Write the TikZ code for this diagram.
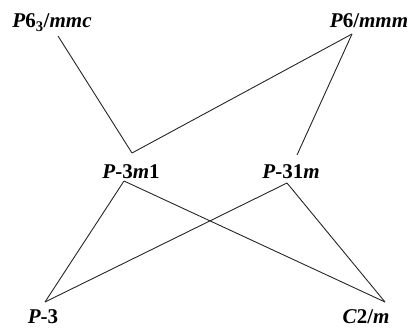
\documentclass[tikz,border=0pt]{standalone}
\usepackage{fontspec}
\setmainfont{Liberation Serif}
\begin{document}
\begin{tikzpicture}[x=1pt,y=-1pt,
  lbl/.style={font=\fontsize{21}{25}\selectfont\bfseries, anchor=base, inner sep=0pt},
  edge/.style={line width=0.9pt, draw=black!85}]
\useasboundingbox (0,0) rectangle (411,329);
% labels
\node[lbl] (p63) at (52,28) {\textit{P}6\textsubscript{3}/\textit{mmc}};
\node[lbl] (p6m) at (369,28) {\textit{P}6/\textit{mmm}};
\node[lbl] (p3m1) at (131,178) {\textit{P}-3\textit{m}1};
\node[lbl] (p31m) at (291,178) {\textit{P}-31\textit{m}};
\node[lbl] (p3) at (43,323) {\textit{P}-3};
\node[lbl] (c2m) at (366,323) {\textit{C}2/\textit{m}};
% connector end points
\coordinate (p63s) at (58,36);
\coordinate (p6ms) at (352,34);
\coordinate (p3m1n) at (132,153);
\coordinate (p3m1s) at (124,181);
\coordinate (p31mn) at (297,155);
\coordinate (p31ms) at (287,183);
\coordinate (p3n) at (45,302);
\coordinate (c2mn) at (385,302);
% connectors
\draw[edge] (p63s) -- (p3m1n);
\draw[edge] (p6ms) -- (p3m1n);
\draw[edge] (p6ms) -- (p31mn);
\draw[edge] (p3m1s) -- (p3n);
\draw[edge] (p3m1s) -- (c2mn);
\draw[edge] (p31ms) -- (p3n);
\draw[edge] (p31ms) -- (c2mn);
\end{tikzpicture}
\end{document}
